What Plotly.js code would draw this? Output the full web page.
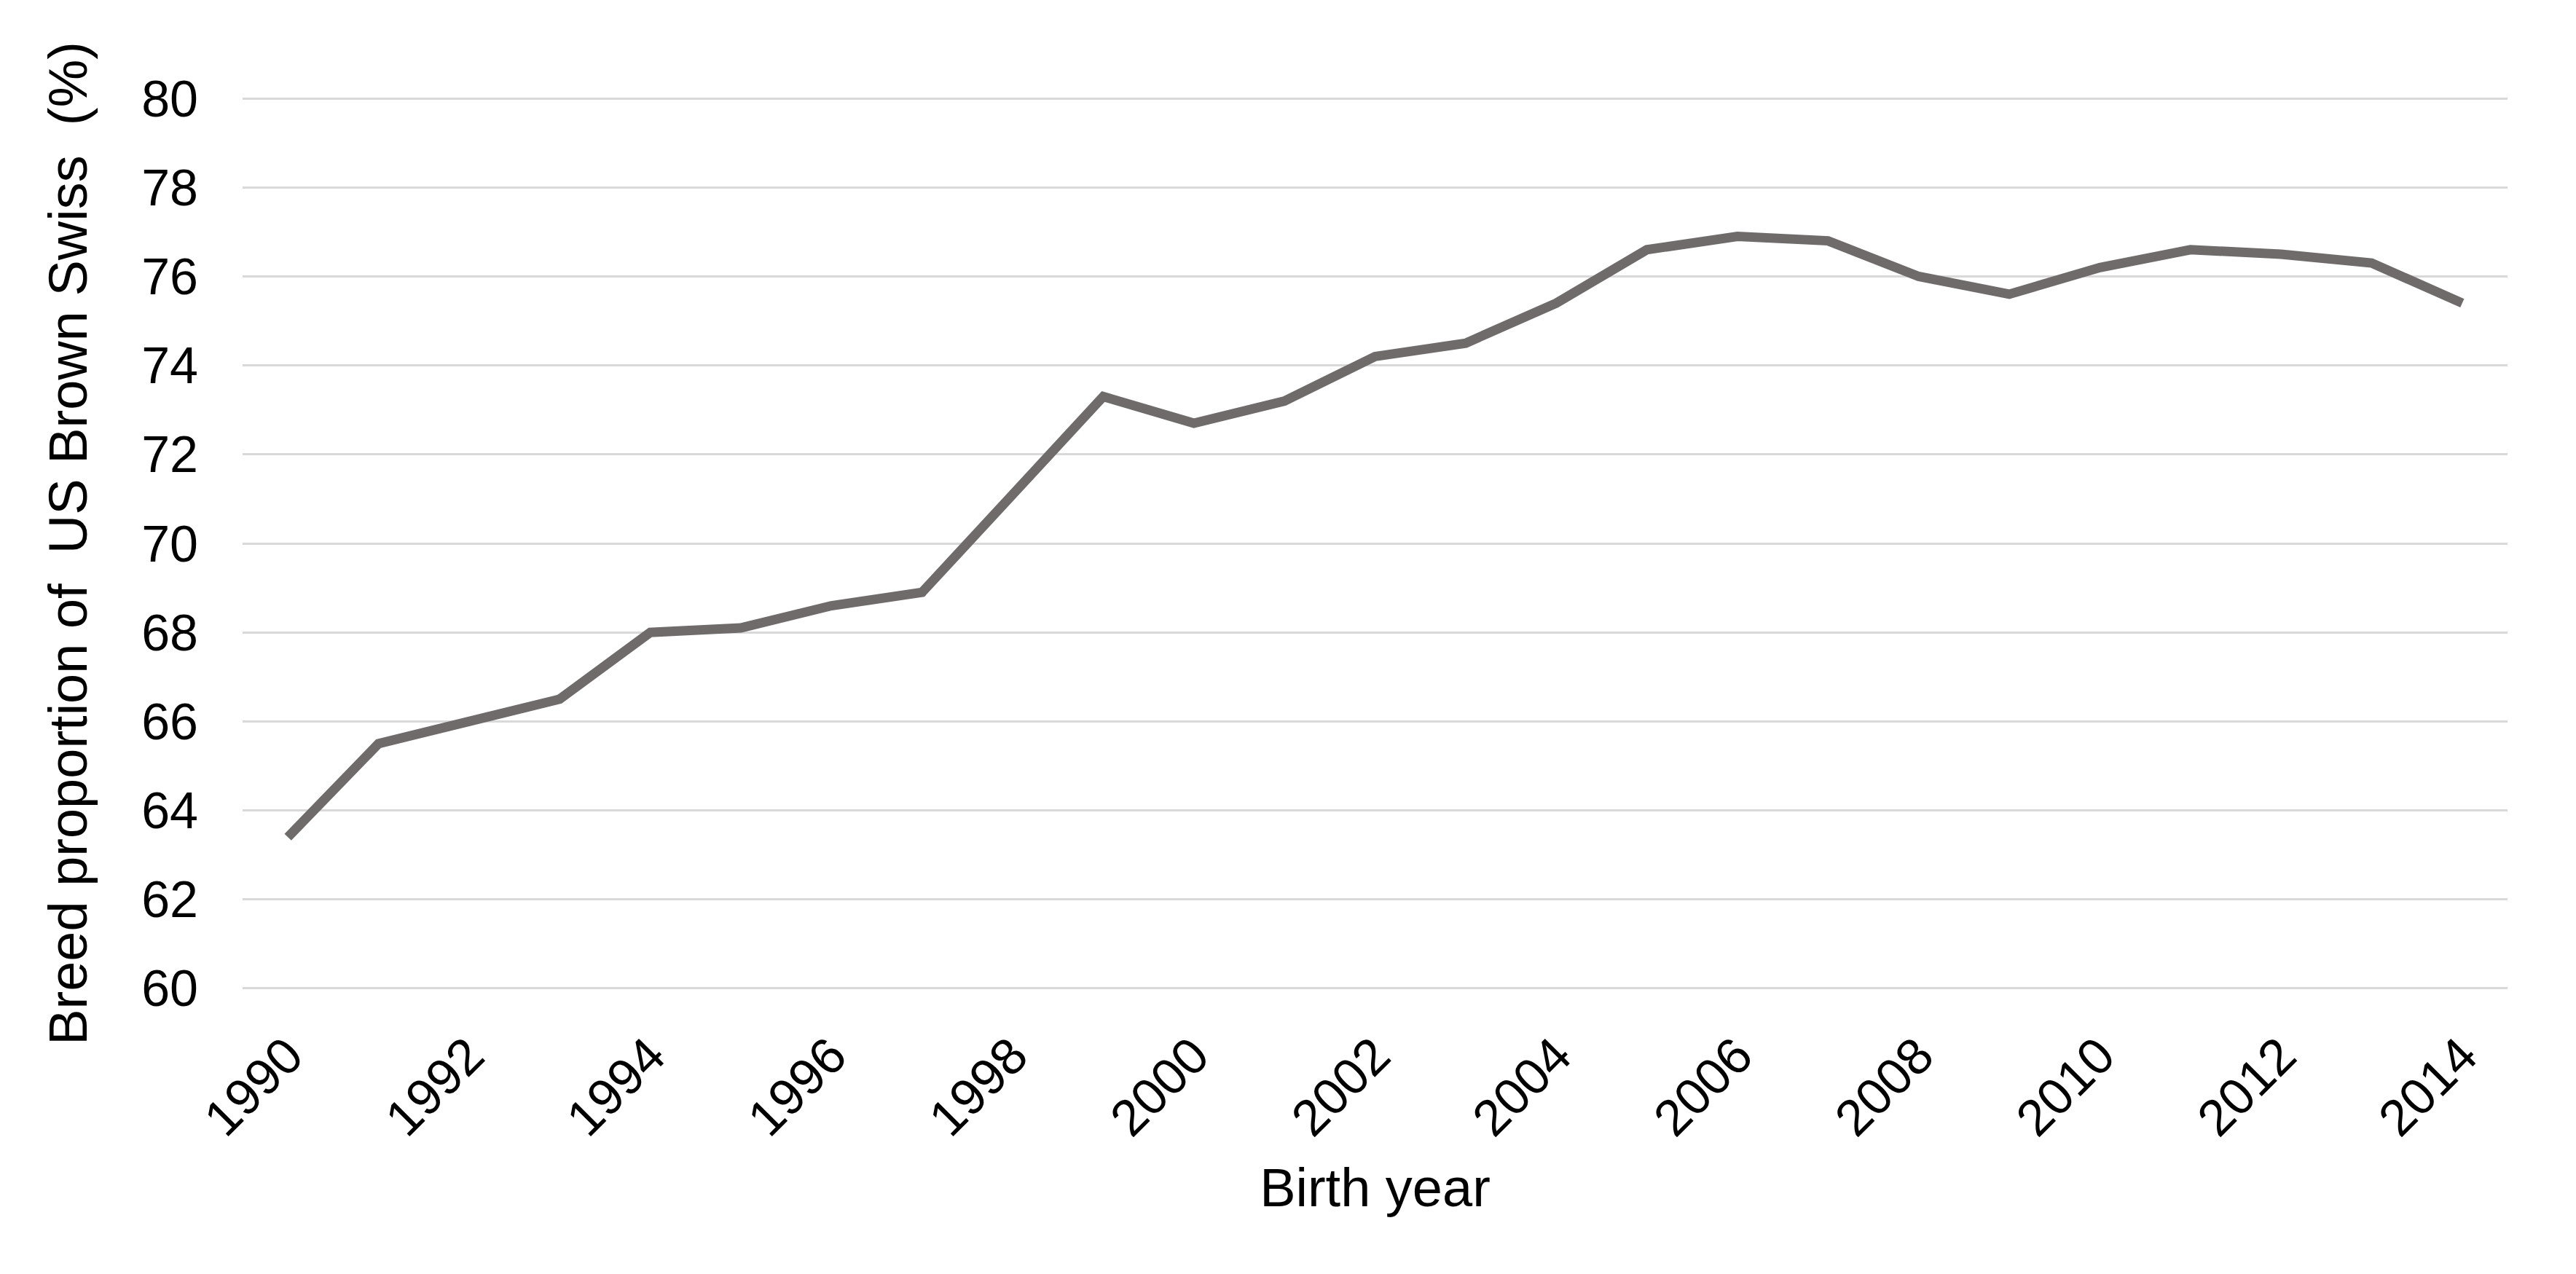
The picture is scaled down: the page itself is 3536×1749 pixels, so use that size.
<!DOCTYPE html>
<html>
<head>
<meta charset="utf-8">
<script src="https://cdn.plot.ly/plotly-3.0.1.min.js"></script>
<style>
  html, body { margin: 0; padding: 0; background: #fff; overflow: hidden; }
  #chart { width: 3536px; height: 1749px; }
</style>
</head>
<body>
<div id="chart"></div>
<script>
// birth years and breed proportion (%)
var years = ['1990', '1991', '1992', '1993', '1994', '1995', '1996', '1997', '1998', '1999',
             '2000', '2001', '2002', '2003', '2004', '2005', '2006', '2007', '2008', '2009',
             '2010', '2011', '2012', '2013', '2014'];
var proportion = [63.4, 65.5, 66.0, 66.5, 68.0, 68.1, 68.6, 68.9, 71.1, 73.3,
                  72.7, 73.2, 74.2, 74.5, 75.4, 76.6, 76.9, 76.8, 76.0, 75.6,
                  76.2, 76.6, 76.5, 76.3, 75.4];
var tickYears = ['1990', '1992', '1994', '1996', '1998', '2000', '2002', '2004',
                 '2006', '2008', '2010', '2012', '2014'];
var yTicks = [60, 62, 64, 66, 68, 70, 72, 74, 76, 78, 80];

var trace = {
    x: years,
    y: proportion,
    type: 'scatter',
    mode: 'lines',
    line: { color: '#6f6b6b', width: 13 },
    hoverinfo: 'x+y'
};

var fontFam = '"Liberation Sans", Arial, sans-serif';

var layout = {
    width: 3536,
    height: 1749,
    // range padded by 0.1 so the 60 and 80 grid lines are drawn
    margin: { l: 333, r: 94, t: 129, b: 386 },
    paper_bgcolor: '#ffffff',
    plot_bgcolor: '#ffffff',
    showlegend: false,
    font: { family: fontFam, size: 70, color: '#000000' },
    xaxis: {
        type: 'category',
        range: [-0.5, years.length - 0.5],
        tickmode: 'array',
        tickvals: tickYears,
        ticktext: tickYears,
        tickangle: -45,
        showgrid: false,
        showline: false,
        zeroline: false,
        ticks: '',
        ticklabelstandoff: 30,
        tickfont: { family: fontFam, size: 70, color: '#000000' },
        title: { text: 'Birth year', font: { family: fontFam, size: 74, color: '#000000' }, standoff: 30 }
    },
    yaxis: {
        range: [59.9, 80.1],
        tickmode: 'array',
        tickvals: yTicks,
        showgrid: true,
        gridcolor: '#d9d9d9',
        gridwidth: 3,
        zeroline: false,
        showline: false,
        ticks: '',
        ticklabelstandoff: 60,
        tickfont: { family: fontFam, size: 70, color: '#000000' },
        title: {
            text: 'Breed proportion of\u00a0\u00a0US Brown Swiss\u00a0\u00a0(%)',
            font: { family: fontFam, size: 74, color: '#000000' },
            standoff: 50
        }
    }
};

Plotly.newPlot('chart', [trace], layout, { displayModeBar: false, staticPlot: true });
</script>
</body>
</html>
